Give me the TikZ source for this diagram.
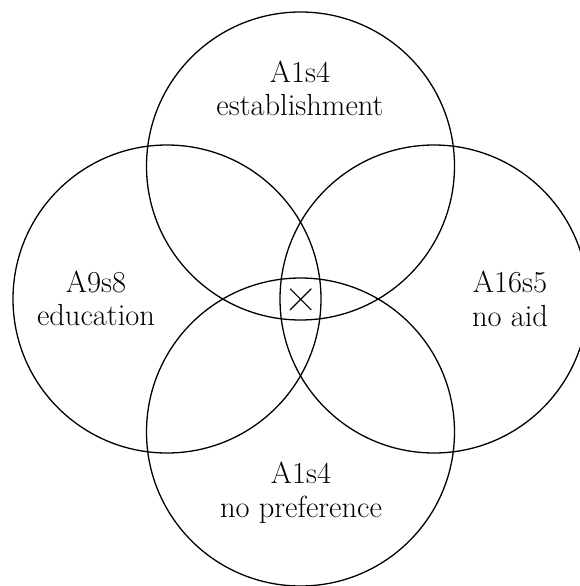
\documentclass[tikz,border=0pt]{standalone}
\usetikzlibrary{shapes.misc}
\begin{document}
\begin{tikzpicture}[x=1pt,y=-1pt,
  setcircle/.style={circle,draw,line width=1.3pt,minimum size=308pt,inner sep=0pt},
  lbl/.style={anchor=base,inner sep=0pt,font=\fontsize{30.5}{34}\selectfont},
  crossmark/.style={cross out,draw,line width=1.2pt,minimum size=20pt,inner sep=0pt}]
\useasboundingbox (0,0) rectangle (580,586);
\clip (0,0) rectangle (580,586);
\node[setcircle] (ctop) at (300.5,166) {};
\node[setcircle] (cbot) at (300.5,432) {};
\node[setcircle] (cleft) at (167,299) {};
\node[setcircle] (cright) at (434,299) {};
\node[lbl] (t1) at (300,82) {A1s4};
\node[lbl] (t2) at (300,115) {establishment};
\node[lbl] (l1) at (96,292) {A9s8};
\node[lbl] (l2) at (96,325) {education};
\node[lbl] (r1) at (510,292) {A16s5};
\node[lbl] (r2) at (510,326) {no aid};
\node[lbl] (b1) at (301,483) {A1s4};
\node[lbl] (b2) at (301,517) {no preference};
\node[crossmark] (x) at (300.7,299.3) {};
\end{tikzpicture}
\end{document}
